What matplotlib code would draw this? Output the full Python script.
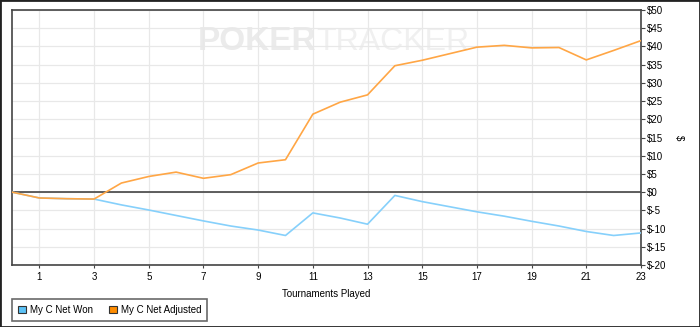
import matplotlib
matplotlib.use("Agg")
import matplotlib.pyplot as plt
from matplotlib.patches import Rectangle

tournaments = list(range(24))
net_won = [0, -1.6, -1.8, -1.9, -3.5, -4.9, -6.4, -7.9, -9.3, -10.4, -11.9, -5.7,
           -7.1, -8.8, -0.9, -2.6, -4.0, -5.4, -6.6, -8.0, -9.3, -10.8, -11.9, -11.2]
net_adjusted = [0, -1.6, -1.8, -1.9, 2.5, 4.3, 5.5, 3.8, 4.8, 8.0, 8.9, 21.4,
                24.7, 26.7, 34.7, 36.2, 38.0, 39.8, 40.3, 39.6, 39.7, 36.3, 38.9, 41.6]
x_ticks = list(range(1, 24, 2))
y_ticks = list(range(-20, 51, 5))

BLUE = '#86d0fb'
ORANGE = '#ffa645'
FS = 7

plt.rcParams['font.family'] = ['Liberation Sans', 'DejaVu Sans']

fig = plt.figure(figsize=(7, 3.27), dpi=100, facecolor='white')
ax = fig.add_axes([12 / 700, 62 / 327, 629 / 700, 255 / 327])

# watermark, drawn under the grid
ax.text(198 / 629 - 12 / 629, 1 - 32 / 255, 'POKER', transform=ax.transAxes,
        fontsize=24, fontweight='bold', color='#ebebeb', va='center', ha='left', zorder=-1)
ax.text(316 / 629 - 12 / 629, 1 - 32 / 255, 'TRACKER', transform=ax.transAxes,
        fontsize=23, color='#f0f0f0', va='center', ha='left', zorder=-1)

ax.plot(tournaments, net_won, color=BLUE, lw=1.2, zorder=3)
ax.plot(tournaments, net_adjusted, color=ORANGE, lw=1.2, zorder=4)
ax.axhline(0, color='#444444', lw=1.2, zorder=2)

ax.set_xlim(0, 23)
ax.set_ylim(-20, 50)
ax.set_xticks(x_ticks)
ax.set_yticks(y_ticks)
ax.set_yticklabels([f'${v}' for v in y_ticks])
ax.grid(True, color='#e8e8e8', lw=0.9, zorder=0)
ax.set_axisbelow(True)

ax.yaxis.tick_right()
ax.yaxis.set_label_position('right')
ax.set_ylabel('$', fontsize=FS, rotation=270, labelpad=9, va='center')
ax.set_xlabel('Tournaments Played', fontsize=FS, labelpad=5)
ax.tick_params(axis='y', labelsize=FS, length=3, pad=1, color='#444444')
ax.tick_params(axis='x', labelsize=FS, length=2, pad=3, color='#444444')
for spine in ax.spines.values():
    spine.set_color('#444444')
    spine.set_linewidth(1.2)

handles = [Rectangle((0, 0), 1, 1, facecolor='#5cc2f6', edgecolor='#333333', lw=0.8),
           Rectangle((0, 0), 1, 1, facecolor='#ff8c00', edgecolor='#333333', lw=0.8)]
leg = fig.legend(handles, ['My C Net Won', 'My C Net Adjusted'], ncol=2,
                 loc='upper left', bbox_to_anchor=(12 / 700, 1 - 299 / 327),
                 fontsize=FS, frameon=True, fancybox=False, borderaxespad=0,
                 handlelength=0.8, handleheight=0.8, handletextpad=0.4,
                 columnspacing=1.7, borderpad=0.6)
leg.get_frame().set_edgecolor('#444444')
leg.get_frame().set_linewidth(1.2)

fig.patches.append(Rectangle((0, 0), 1, 1, transform=fig.transFigure,
                             fill=False, edgecolor='#222222', lw=2))

fig.savefig('out.png', dpi=100, facecolor='white')
